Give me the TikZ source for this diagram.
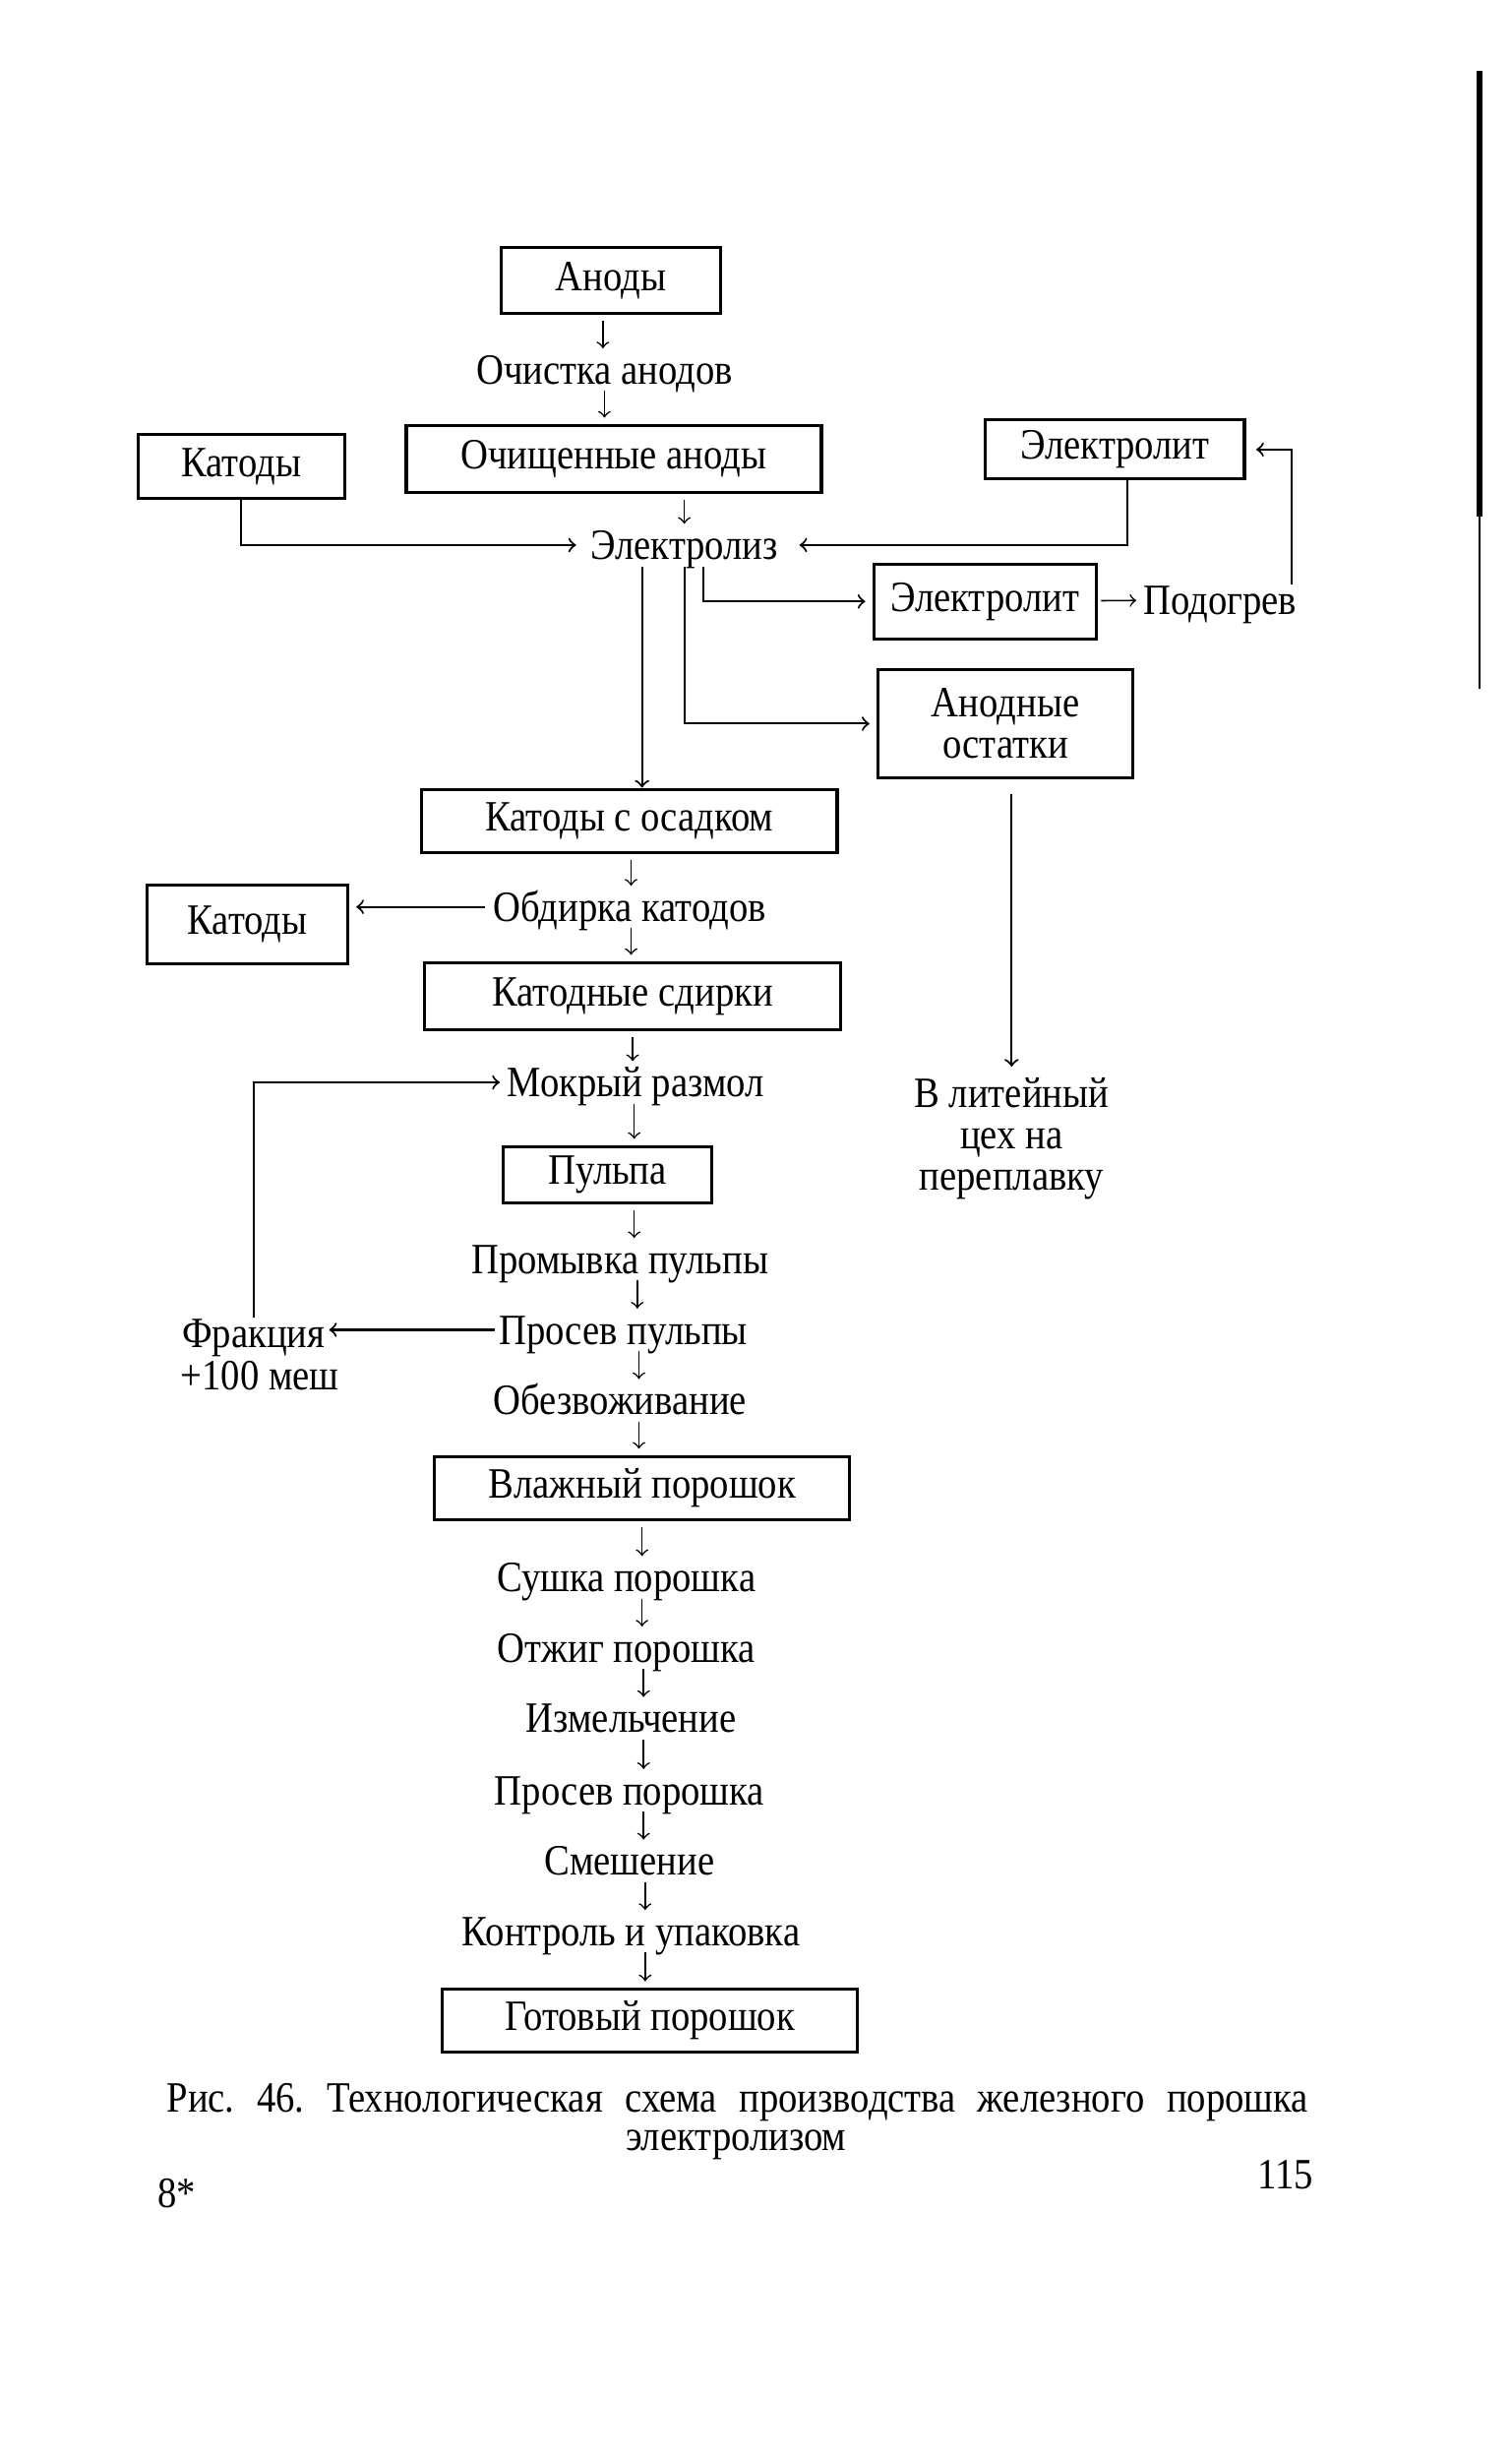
\documentclass[tikz,border=0pt]{standalone}
\usepackage{fontspec}
\setmainfont{Liberation Serif}[FakeStretch=0.88]
\usepackage{tikz}
\usetikzlibrary{arrows}
\frenchspacing

\begin{document}
\begin{tikzpicture}[x=0.015917cm, y=-0.015917cm,
  font=\fontsize{12.5}{12}\selectfont,
  blok/.style={draw, line width=0.9pt, inner sep=0pt, align=center},
  stage/.style={inner sep=0pt, text height=8.3pt, text depth=0pt},
  flow/.style={->, >=to, line width=0.45pt, shorten <=1.8pt, shorten >=1.8pt},
  link/.style={->, >=to, line width=0.6pt}]
\useasboundingbox (0,0) rectangle (965,1568);

\node[blok, minimum width=2.23cm, minimum height=0.67cm] (an) at (390,179) {Аноды};
\node[stage] (och) at (386,236) {Очистка анодов};
\node[blok, minimum width=4.22cm, minimum height=0.68cm] (ochan) at (392,293) {Очищенные аноды};
\node[blok, minimum width=2.10cm, minimum height=0.65cm] (kat1) at (154,298) {Катоды};
\node[blok, minimum width=2.63cm, minimum height=0.60cm] (el1) at (712,287) {Электролит};
\node[stage] (elz) at (437,348) {Электролиз};
\node[blok, minimum width=2.26cm, minimum height=0.76cm] (el2) at (629,384) {Электролит};
\node[stage] (pod) at (779,383) {Подогрев};
\node[blok, minimum width=2.59cm, minimum height=1.10cm] (ost) at (642,462) {Анодные\\остатки};
\node[inner sep=0pt, align=center] (lit) at (646,727) {В литейный\\цех на\\переплавку};
\node[blok, minimum width=4.22cm, minimum height=0.64cm] (kos) at (402,524) {Катоды с осадком};
\node[stage] (obd) at (402,579) {Обдирка катодов};
\node[blok, minimum width=2.04cm, minimum height=0.80cm] (kat2) at (158,590) {Катоды};
\node[blok, minimum width=4.23cm, minimum height=0.68cm] (ksd) at (404,636) {Катодные сдирки};
\node[stage] (mok) at (406,691) {Мокрый размол};
\node[blok, minimum width=2.12cm, minimum height=0.57cm] (pul) at (388,750) {Пульпа};
\node[stage] (prom) at (396,804) {Промывка пульпы};
\node[stage] (pros) at (398,849) {Просев пульпы};
\node[stage] (frak) at (162,851) {Фракция};
\node[stage] (mesh) at (166,878) {+100 меш};
\node[stage] (obz) at (396,894) {Обезвоживание};
\node[blok, minimum width=4.22cm, minimum height=0.64cm] (vlag) at (410,950) {Влажный порошок};
\node[stage] (sush) at (400,1007) {Сушка порошка};
\node[stage] (otzh) at (400,1052) {Отжиг порошка};
\node[stage] (izm) at (403,1097) {Измельчение};
\node[stage] (prp) at (402,1143) {Просев порошка};
\node[stage] (sme) at (402,1188) {Смешение};
\node[stage] (kon) at (403,1233) {Контроль и упаковка};
\node[blok, minimum width=4.22cm, minimum height=0.64cm] (got) at (415,1290) {Готовый порошок};

\node[stage] (cap1) at (471,1339) {\makebox[11.6cm][s]{Рис. 46. Технологическая схема производства\enspace железного порошка}};
\node[stage] (cap2) at (470,1364) {электролизом};
\node[stage] (pg) at (821,1388) {115};
\node[stage] (sig) at (113,1400) {8*};

\coordinate (e1) at (410,362);
\coordinate (e2) at (437,362);
\coordinate (e3) at (449,362);

\foreach \a/\b/\s in {an/och/-5, och/ochan/0, kos/obd/1, obd/ksd/1, ksd/mok/0, mok/pul/-1, pul/prom/17, prom/pros/11, pros/obz/10, obz/vlag/12, vlag/sush/0, sush/otzh/10, otzh/izm/11, izm/prp/8, prp/sme/9, sme/kon/10, kon/got/9}{
  \path (\a.south) ++(\s,0) coordinate (p);
  \draw[flow] (p) -- (p |- \b.north);
}
\draw[flow] (elz |- ochan.south) -- (elz);

\draw[link, shorten >=4pt] (kat1.south) |- (elz.west);
\draw[link, shorten >=6pt] ([xshift=0.13cm]el1.south) |- (elz.east);
\draw[link] (e1) -- (e1 |- kos.north);
\draw[link, shorten >=2pt] (e2) |- (ost.west);
\draw[link, shorten >=2pt] (e3) |- (el2.west);
\draw[flow, shorten <=1pt] (el2) -- (pod);
\draw[link, shorten >=3pt] ([xshift=-0.06cm]pod.north east) |- (el1.east);
\draw[link, shorten <=0.15cm, shorten >=3pt] (ost.south -| lit) -- (lit);
\draw[link, shorten <=2pt, shorten >=2pt] (obd.west) -- (obd.west -| kat2.east);
\draw[link, shorten <=1pt, shorten >=1pt] (pros.west) -- (pros.west -| frak.east);
\draw[link, shorten >=2pt] (frak.north) |- (mok.west);

\draw[line width=1.6pt] (945,45) -- (945,330);
\draw[line width=0.6pt] (945,330) -- (945,440);
\end{tikzpicture}
\end{document}
